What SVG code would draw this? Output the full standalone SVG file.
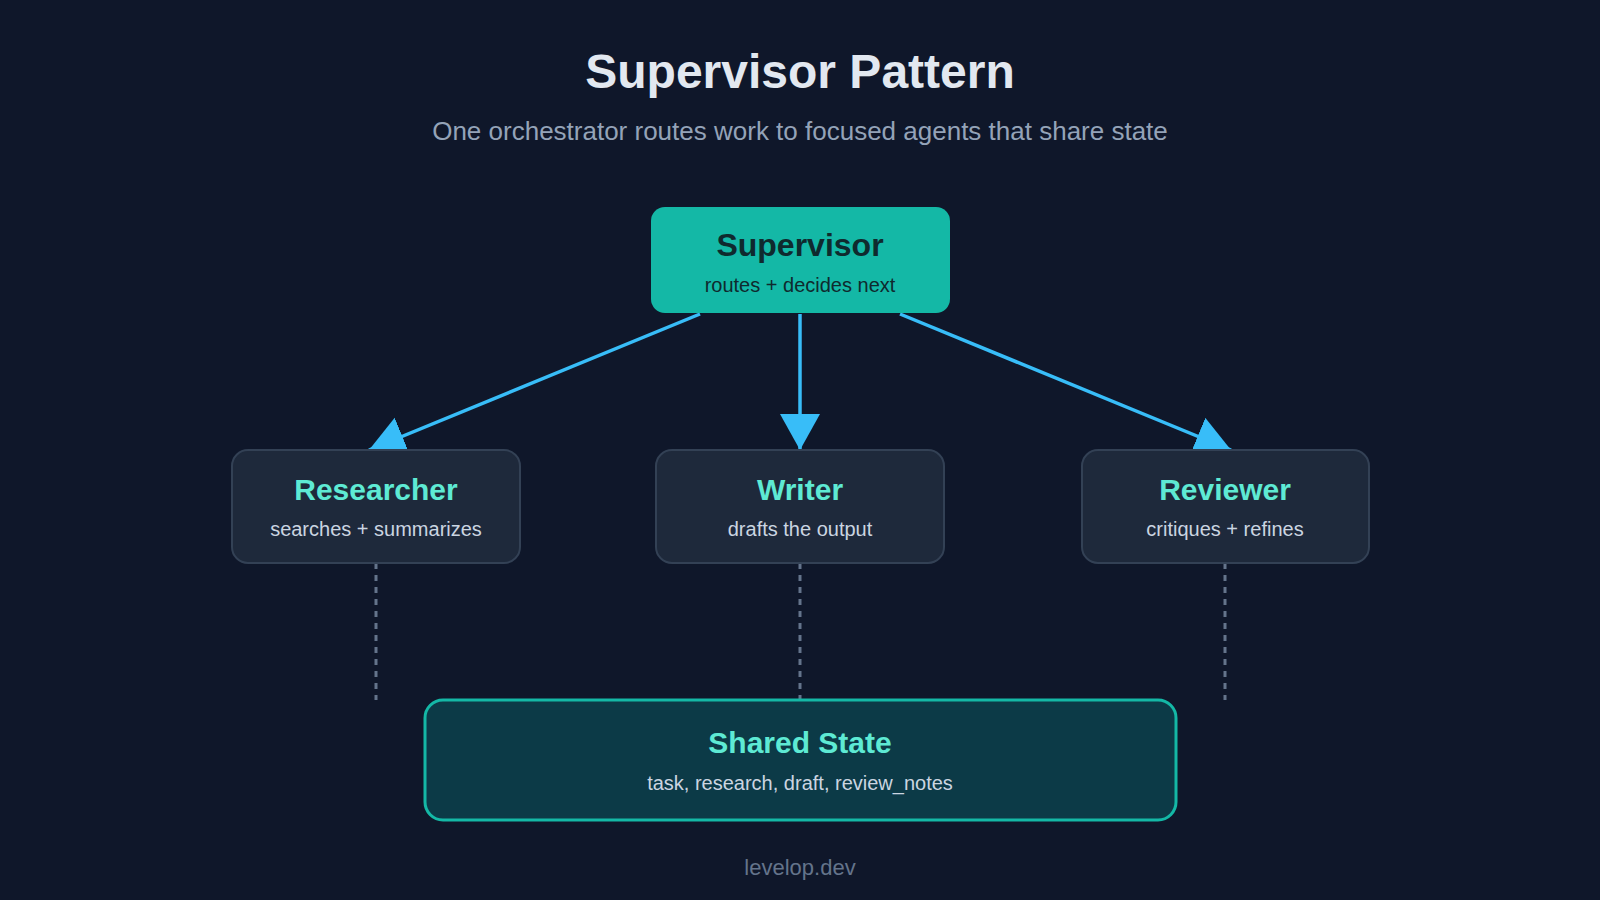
<svg xmlns="http://www.w3.org/2000/svg" width="1600" height="900" viewBox="0 0 1600 900">
<style>
text{font-family:"Liberation Sans",Arial,sans-serif;text-anchor:middle}
.t{font-size:30px;font-weight:bold;fill:#5eead4}
.s{font-size:20px;fill:#cbd5e1}
.agent{fill:#1e293b;stroke:#334155;stroke-width:2}
.arr{stroke:#38bdf8;stroke-width:3.5;fill:none;marker-end:url(#ah)}
.dash{stroke:#64748b;stroke-width:3;stroke-dasharray:6 6;fill:none}
</style>
<defs>
<marker id="ah" markerUnits="userSpaceOnUse" markerWidth="44" markerHeight="44" refX="36" refY="20" orient="auto">
<path d="M0,0 L36,20 L0,40 Z" fill="#38bdf8"/>
</marker>
</defs>
<rect width="1600" height="900" fill="#0f172a"/>
<text x="800" y="88" font-size="48" font-weight="bold" fill="#e2e8f0">Supervisor Pattern</text>
<text x="800" y="140" font-size="26" fill="#94a3b8">One orchestrator routes work to focused agents that share state</text>
<g id="connectors">
<path class="arr" d="M700,314 L369,450"/>
<path class="arr" d="M800,314 L800,450"/>
<path class="arr" d="M900,314 L1231,450"/>
<path class="dash" d="M376,563 V700"/>
<path class="dash" d="M800,563 V700"/>
<path class="dash" d="M1225,563 V700"/>
</g>
<g id="supervisor">
<rect x="651" y="207" width="299" height="106" rx="14" fill="#14b8a6"/>
<text x="800" y="256" font-size="32" font-weight="bold" fill="#0f2a2e">Supervisor</text>
<text x="800" y="292" font-size="20" fill="#0f2a2e">routes + decides next</text>
</g>
<g id="researcher">
<rect class="agent" x="232" y="450" width="288" height="113" rx="16"/>
<text class="t" x="376" y="500">Researcher</text>
<text class="s" x="376" y="536">searches + summarizes</text>
</g>
<g id="writer">
<rect class="agent" x="656" y="450" width="288" height="113" rx="16"/>
<text class="t" x="800" y="500">Writer</text>
<text class="s" x="800" y="536">drafts the output</text>
</g>
<g id="reviewer">
<rect class="agent" x="1082" y="450" width="287" height="113" rx="16"/>
<text class="t" x="1225" y="500">Reviewer</text>
<text class="s" x="1225" y="536">critiques + refines</text>
</g>
<g id="shared-state">
<rect x="425" y="700" width="751" height="120" rx="18" fill="#0c3a47" stroke="#14b8a6" stroke-width="3"/>
<text class="t" x="800" y="753" font-size="32">Shared State</text>
<text class="s" x="800" y="790" font-size="21">task, research, draft, review_notes</text>
</g>
<text x="800" y="875" font-size="22" fill="#64748b">levelop.dev</text>
</svg>
